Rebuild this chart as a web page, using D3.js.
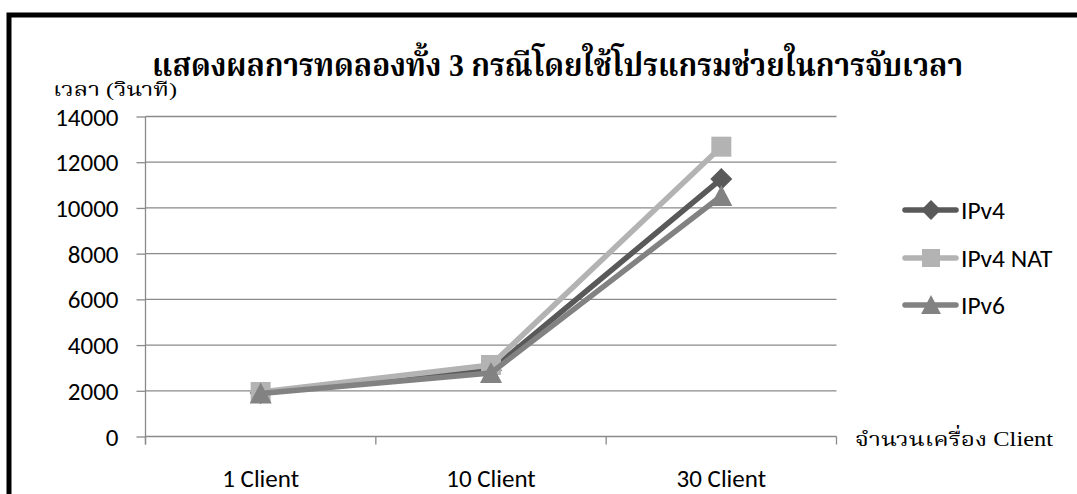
<!DOCTYPE html>
<html>
<head>
<meta charset="utf-8">
<script src="https://cdn.jsdelivr.net/npm/d3@7"></script>
<style>
html,body{margin:0;padding:0;background:#fff;}
svg{display:block;}
</style>
</head>
<body>
<svg id="chart" width="1077" height="494"></svg>
<script>
const categories = ["1 Client", "10 Client", "30 Client"];
const seriesNames = ["IPv4", "IPv4 NAT", "IPv6"];
const ipv4 = [1900, 2900, 11270];
const ipv4Nat = [1950, 3130, 12680];
const ipv6 = [1880, 2780, 10520];
const yTicks = [0, 2000, 4000, 6000, 8000, 10000, 12000, 14000];
const titleText = "แสดงผลการทดลองทั้ง 3 กรณีโดยใช้โปรแกรมช่วยในการจับเวลา";
const yTitle = "เวลา (วินาที)";
const xTitle = "จำนวนเครื่อง Client";

const seriesValues = [ipv4, ipv4Nat, ipv6];
const colors = ["#595959", "#b3b3b3", "#828282"];
const shapes = ["diamond", "square", "triangle"];

const svg = d3.select("#chart");
const thaiSerif = "'Liberation Serif','Norasi','Kinnari','Noto Serif Thai','Angsana New','Noto Sans Thai','Loma','Garuda',serif";
const sansFont = "Carlito, Calibri, Lato, 'Open Sans', sans-serif";

// outer frame
svg.append("rect").attr("x", 9).attr("y", 15).attr("width", 1100).attr("height", 520)
  .attr("fill", "none").attr("stroke", "#000").attr("stroke-width", 5);

const pLeft = 145.5, pRight = 836.5, pTop = 116.5, pBottom = 436.5;
const x = d3.scaleBand().domain(categories).range([pLeft, pRight]).padding(0);
const y = d3.scaleLinear().domain([0, 14000]).range([pBottom, pTop]);

// gridlines
svg.append("g").selectAll("line").data(yTicks.filter(d => d > 0)).join("line")
  .attr("x1", pLeft).attr("x2", pRight)
  .attr("y1", d => y(d)).attr("y2", d => y(d))
  .attr("stroke", "#8a8a8a").attr("stroke-width", 1.3);

// y axis
const yAxis = d3.axisLeft(y).tickValues(yTicks).tickSize(9).tickPadding(18).tickFormat(d3.format("d"));
const yg = svg.append("g").attr("transform", `translate(${pLeft},0)`).call(yAxis);
yg.select(".domain").remove();
yg.append("line").attr("x1", 0).attr("x2", 0).attr("y1", pTop).attr("y2", pBottom + 8)
  .attr("stroke", "#8a8a8a").attr("stroke-width", 1.3);
yg.selectAll(".tick line").attr("stroke", "#8a8a8a").attr("stroke-width", 1.3);
yg.selectAll(".tick text").attr("font-family", sansFont).attr("font-size", 25).attr("font-weight", "normal")
  .attr("fill", "#000").attr("dy", "0.34em");

// x axis
const xg = svg.append("g").attr("transform", `translate(0,${pBottom})`);
xg.append("line").attr("x1", pLeft).attr("x2", pRight).attr("y1", 0).attr("y2", 0)
  .attr("stroke", "#8a8a8a").attr("stroke-width", 1.3);
const bounds = [pLeft].concat(categories.map(c => x(c) + x.bandwidth()));
xg.selectAll("line.tk").data(bounds).join("line").attr("class", "tk")
  .attr("x1", d => d).attr("x2", d => d).attr("y1", 0).attr("y2", 8)
  .attr("stroke", "#8a8a8a").attr("stroke-width", 1.3);
xg.selectAll("text").data(categories).join("text")
  .attr("x", d => x(d) + x.bandwidth() / 2).attr("y", 50.5)
  .attr("text-anchor", "middle").attr("font-family", sansFont).attr("font-size", 25).attr("font-weight", "normal")
  .text(d => d);

function markerPath(shape, cx, cy) {
  if (shape === "diamond") return `M${cx},${cy-11}L${cx+11},${cy}L${cx},${cy+11}L${cx-11},${cy}Z`;
  if (shape === "square") return `M${cx-10},${cy-10}h20v20h-20Z`;
  return `M${cx},${cy-11}L${cx+11},${cy+10}L${cx-11},${cy+10}Z`;
}

const line = d3.line().x((d, i) => x(categories[i]) + x.bandwidth() / 2).y(d => y(d));
seriesValues.forEach((vals, si) => {
  const g = svg.append("g");
  g.append("path").attr("d", line(vals)).attr("fill", "none")
    .attr("stroke", colors[si]).attr("stroke-width", 5.5).attr("stroke-linejoin", "round").attr("stroke-linecap", "round");
  g.selectAll("path.m").data(vals).join("path").attr("class", "m")
    .attr("d", (d, i) => markerPath(shapes[si], x(categories[i]) + x.bandwidth() / 2, y(d)))
    .attr("fill", colors[si]);
});

// legend
const legY = [210, 258, 305];
seriesNames.forEach((n, i) => {
  const g = svg.append("g");
  g.append("line").attr("x1", 905).attr("x2", 956).attr("y1", legY[i]).attr("y2", legY[i])
    .attr("stroke", colors[i]).attr("stroke-width", 5.5).attr("stroke-linecap", "round");
  const m = markerPath(shapes[i], 931, legY[i]);
  g.append("path").attr("d", m).attr("fill", colors[i]).attr("transform", `translate(931,${legY[i]}) scale(0.9) translate(-931,${-legY[i]})`);
  g.append("text").attr("x", 961).attr("y", legY[i] + 9).attr("font-family", sansFont).attr("font-size", 25.5)
    .attr("font-weight", "normal").text(n);
});

// titles
svg.append("text").attr("x", 152).attr("y", 76).attr("font-family", thaiSerif).attr("font-weight", "bold")
  .attr("font-size", 32).attr("textLength", 811).attr("lengthAdjust", "spacingAndGlyphs").text(titleText);
svg.append("text").attr("x", 53).attr("y", 96).attr("font-family", thaiSerif)
  .attr("font-size", 19).attr("textLength", 124).attr("lengthAdjust", "spacingAndGlyphs").text(yTitle);
svg.append("text").attr("x", 855).attr("y", 446).attr("font-family", thaiSerif)
  .attr("font-size", 20).attr("textLength", 198).attr("lengthAdjust", "spacingAndGlyphs").text(xTitle);
</script>
</body>
</html>
